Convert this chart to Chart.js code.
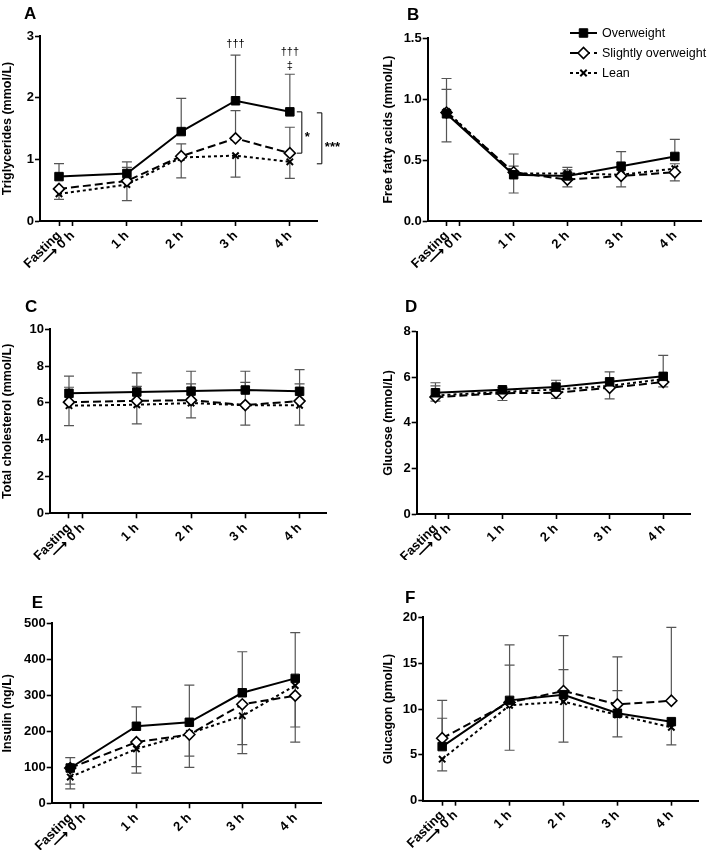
<!DOCTYPE html>
<html>
<head>
<meta charset="utf-8">
<script src="https://cdn.jsdelivr.net/npm/chart.js@4.4.1/dist/chart.umd.min.js"></script>
<style>
  body { margin: 0; background: #fff; }
  #fig { position: relative; width: 709px; height: 850px; background: #fff; }
  #fig canvas { position: absolute; }
</style>
</head>
<body>
<div id="fig">
  <canvas id="panelA" width="355" height="280" style="left:0;top:0"></canvas>
  <canvas id="panelB" width="354" height="280" style="left:355px;top:0"></canvas>
  <canvas id="panelC" width="355" height="280" style="left:0;top:280px"></canvas>
  <canvas id="panelD" width="354" height="280" style="left:355px;top:280px"></canvas>
  <canvas id="panelE" width="355" height="290" style="left:0;top:560px"></canvas>
  <canvas id="panelF" width="354" height="290" style="left:355px;top:560px"></canvas>
</div>
<script>
// time axis
const hourTicks = [-0.25, 0, 1, 2, 3, 4];
const hourLabels = ["Fasting", "⟶ 0 h", "1 h", "2 h", "3 h", "4 h"];
const sampleHours = [-0.25, 1, 2, 3, 4];
const groupNames = ["Overweight", "Slightly overweight", "Lean"];

// A - triglycerides
const tgOver = [0.72, 0.77, 1.45, 1.95, 1.77];
const tgSlight = [0.52, 0.65, 1.05, 1.34, 1.10];
const tgLean = [0.44, 0.59, 1.03, 1.06, 0.96];
const tgOverHi = [0.93, 0.96, 1.99, 2.69, 2.38];
const tgSlightHi = [null, 0.87, 1.25, 1.79, 1.52];
const tgLeanLo = [0.35, 0.33, 0.70, 0.71, 0.69];

// B - free fatty acids
const ffaOver = [0.88, 0.38, 0.37, 0.45, 0.53];
const ffaSlight = [0.89, 0.40, 0.34, 0.37, 0.40];
const ffaLean = [0.90, 0.39, 0.39, 0.38, 0.43];
const ffaOverHi = [1.17, 0.55, 0.44, 0.57, 0.67];
const ffaSlightHi = [1.08, 0.45, null, null, null];
const ffaLeanHi = [null, null, 0.42, null, 0.47];
const ffaLeanLo = [0.65, 0.23, 0.28, 0.28, 0.33];

// C - total cholesterol
const cholOver = [6.52, 6.59, 6.64, 6.70, 6.63];
const cholSlight = [6.04, 6.11, 6.15, 5.88, 6.10];
const cholLean = [5.85, 5.90, 5.99, 5.87, 5.87];
const cholOverHi = [7.45, 7.63, 7.72, 7.72, 7.81];
const cholSlightHi = [6.85, 6.90, 7.03, 7.12, 7.03];
const cholLeanLo = [4.77, 4.86, 5.19, 4.79, 4.79];

// D - glucose
const gluOver = [5.32, 5.45, 5.57, 5.80, 6.04];
const gluSlight = [5.13, 5.30, 5.32, 5.54, 5.79];
const gluLean = [5.20, 5.36, 5.46, 5.62, 5.92];
const gluOverHi = [5.76, 5.55, 5.87, 6.24, 6.96];
const gluSlightHi = [5.62, null, null, null, null];
const gluLeanLo = [4.95, 4.98, 5.07, 5.05, 5.58];

// E - insulin
const insOver = [98, 214, 225, 307, 347];
const insSlight = [98, 170, 191, 275, 299];
const insLean = [73, 151, 194, 243, 327];
const insOverHi = [127, 268, 328, 421, 474];
const insSlightLo = [53, 102, 131, 163, 212];
const insLeanLo = [40, 84, 100, 138, 170];

// F - glucagon
const gcgOver = [5.9, 10.94, 11.56, 9.53, 8.62];
const gcgSlight = [6.81, 10.72, 11.96, 10.5, 10.9];
const gcgLean = [4.53, 10.4, 10.8, 9.35, 8.0];
const gcgOverHi = [8.99, 14.78, 14.3, 12.0, null];
const gcgSlightHi = [10.94, 16.99, 18.0, 15.69, 18.9];
const gcgLeanLo = [3.26, 5.5, 6.38, 6.96, 6.09];

const FONT = '"Liberation Sans", Arial, sans-serif';
Chart.defaults.font.family = FONT;
Chart.defaults.color = "#000";

const groupStyles = [
    { pointStyle: "rect", pointRadius: 6, pointBackgroundColor: "#000", pointBorderWidth: 1, borderDash: [] },
    { pointStyle: "rectRot", pointRadius: 5.5, pointBackgroundColor: "#fff", pointBorderWidth: 1.6, borderDash: [8, 4] },
    { pointStyle: "crossRot", pointRadius: 4.5, pointBackgroundColor: "#000", pointBorderWidth: 2, borderDash: [3, 3] }
];

// vertical error bars, drawn under the markers
const errorBars = {
    id: "errorBars",
    beforeDatasetsDraw(chart) {
        const ctx = chart.ctx;
        const y = chart.scales.y;
        ctx.save();
        ctx.strokeStyle = "#555";
        ctx.lineWidth = 1.2;
        chart.data.datasets.forEach((ds, i) => {
            chart.getDatasetMeta(i).data.forEach((p, j) => {
                [ds.errHi, ds.errLo].forEach(arr => {
                    if (!arr || arr[j] == null) return;
                    const end = y.getPixelForValue(arr[j]);
                    ctx.beginPath();
                    ctx.moveTo(p.x, p.y);
                    ctx.lineTo(p.x, end);
                    ctx.moveTo(p.x - 5, end);
                    ctx.lineTo(p.x + 5, end);
                    ctx.stroke();
                });
            });
        });
        ctx.restore();
    }
};

const panelLetter = {
    id: "letter",
    afterDraw(chart, args, o) {
        const ctx = chart.ctx;
        ctx.save();
        ctx.fillStyle = "#000";
        ctx.font = "bold 17px " + FONT;
        ctx.textBaseline = "alphabetic";
        ctx.fillText(o.text, o.x, o.y);
        ctx.restore();
    }
};

function drawMark(ctx, ds, x, y) {
    const r = ds.pointRadius;
    const s = r * Math.SQRT1_2;
    ctx.lineWidth = ds.pointBorderWidth;
    ctx.strokeStyle = "#000";
    ctx.fillStyle = ds.pointBackgroundColor;
    ctx.beginPath();
    if (ds.pointStyle === "rect") {
        ctx.rect(x - s, y - s, 2 * s, 2 * s);
        ctx.fill();
        ctx.stroke();
    } else if (ds.pointStyle === "rectRot") {
        ctx.moveTo(x - r, y);
        ctx.lineTo(x, y - r);
        ctx.lineTo(x + r, y);
        ctx.lineTo(x, y + r);
        ctx.closePath();
        ctx.fill();
        ctx.stroke();
    } else {
        ctx.moveTo(x - s, y - s);
        ctx.lineTo(x + s, y + s);
        ctx.moveTo(x - s, y + s);
        ctx.lineTo(x + s, y - s);
        ctx.stroke();
    }
}

// legend in panel B (line sample with marker)
const legendBox = {
    id: "legendBox",
    afterDraw(chart) {
        const ctx = chart.ctx;
        chart.data.datasets.forEach((ds, i) => {
            const y = 33 + i * 20;
            ctx.save();
            ctx.strokeStyle = "#000";
            ctx.lineWidth = 2;
            ctx.setLineDash(ds.borderDash);
            ctx.beginPath();
            ctx.moveTo(215, y);
            ctx.lineTo(242, y);
            ctx.stroke();
            ctx.setLineDash([]);
            drawMark(ctx, ds, 228.5, y);
            ctx.fillStyle = "#000";
            ctx.font = "12.5px " + FONT;
            ctx.textBaseline = "middle";
            ctx.fillText(ds.label, 247, y + 1);
            ctx.restore();
        });
    }
};

// significance marks of panel A
const tgMarks = {
    id: "tgMarks",
    afterDraw(chart) {
        const { ctx, scales: { x, y } } = chart;
        const x3 = x.getPixelForValue(3);
        const x4 = x.getPixelForValue(4);
        ctx.save();
        ctx.fillStyle = "#000";
        ctx.strokeStyle = "#000";
        ctx.lineWidth = 1;
        ctx.textAlign = "center";
        ctx.font = "11px " + FONT;
        ctx.fillText("†††", x3, y.getPixelForValue(tgOverHi[3]) - 8);
        ctx.fillText("†††", x4, y.getPixelForValue(tgOverHi[4]) - 19);
        ctx.fillText("‡", x4, y.getPixelForValue(tgOverHi[4]) - 5);

        function bracket(bx, y1, y2, label, ty) {
            ctx.beginPath();
            ctx.moveTo(bx - 5, y1);
            ctx.lineTo(bx, y1);
            ctx.lineTo(bx, y2);
            ctx.lineTo(bx - 5, y2);
            ctx.stroke();
            ctx.textAlign = "left";
            ctx.font = "bold 13px " + FONT;
            ctx.fillText(label, bx + 3, ty);
        }
        const top = y.getPixelForValue(tgOver[4]);
        const mid1 = y.getPixelForValue(tgSlight[4]);
        const low = y.getPixelForValue(tgLean[4]);
        bracket(x4 + 12, top, mid1, "*", (top + mid1) / 2 + 8);
        bracket(x4 + 32, top + 1, low + 2, "***", (top + low) / 2 + 14);
        ctx.restore();
    }
};

function series(i, values, hi, lo) {
    const st = groupStyles[i];
    return {
        label: groupNames[i],
        data: sampleHours.map((h, k) => ({ x: h, y: values[k] })),
        errHi: hi || null,
        errLo: lo || null,
        borderColor: "#000",
        borderWidth: 2,
        borderDash: st.borderDash,
        pointStyle: st.pointStyle,
        pointRadius: st.pointRadius,
        pointBackgroundColor: st.pointBackgroundColor,
        pointBorderColor: "#000",
        pointBorderWidth: st.pointBorderWidth,
        tension: 0,
        fill: false
    };
}

function makePanel(id, p) {
    const ctx = document.getElementById(id).getContext("2d");
    const axisGrid = { drawOnChartArea: false, tickLength: 5, tickWidth: 1.6, tickColor: "#000" };
    return new Chart(ctx, {
        type: "line",
        data: {
            datasets: p.groups.map((g, i) => series(i, g.values, g.hi, g.lo))
        },
        options: {
            responsive: false,
            animation: false,
            layout: { padding: { left: p.padL, top: p.padT, right: p.padR, bottom: 0 } },
            plugins: {
                legend: { display: false },
                tooltip: { enabled: false },
                letter: { text: p.letter, x: p.lx, y: p.ly }
            },
            scales: {
                x: {
                    type: "linear",
                    min: -0.6,
                    max: 4.5,
                    afterBuildTicks: axis => { axis.ticks = hourTicks.map(v => ({ value: v })); },
                    afterFit: axis => { axis.height = p.xh; },
                    ticks: {
                        autoSkip: false,
                        minRotation: 45,
                        maxRotation: 45,
                        padding: 2,
                        font: { size: 13, weight: "bold" },
                        callback: (v, i) => hourLabels[i]
                    },
                    grid: axisGrid,
                    border: { color: "#000", width: 2 }
                },
                y: {
                    min: 0,
                    max: p.yMax,
                    afterFit: axis => { axis.width = p.yw; },
                    ticks: {
                        stepSize: p.step,
                        padding: 1,
                        font: { size: 13, weight: "bold" },
                        callback: v => v.toFixed(p.dec)
                    },
                    grid: axisGrid,
                    border: { color: "#000", width: 2 },
                    title: {
                        display: true,
                        text: p.title,
                        font: { size: 12.5, weight: "bold" },
                        padding: { top: 0, bottom: 0 }
                    }
                }
            }
        },
        plugins: [errorBars, panelLetter].concat(p.extra || [])
    });
}

makePanel("panelA", {
    letter: "A", lx: 24, ly: 19,
    title: "Triglycerides (mmol/L)", yMax: 3, step: 1, dec: 0,
    padL: 0, yw: 40, padT: 36, padR: 38, xh: 59,
    groups: [
        { values: tgOver, hi: tgOverHi },
        { values: tgSlight, hi: tgSlightHi },
        { values: tgLean, lo: tgLeanLo }
    ],
    extra: [tgMarks]
});

makePanel("panelB", {
    letter: "B", lx: 52, ly: 20,
    title: "Free fatty acids (mmol/L)", yMax: 1.5, step: 0.5, dec: 1,
    padL: 26, yw: 46.7, padT: 38.3, padR: 7.3, xh: 59,
    groups: [
        { values: ffaOver, hi: ffaOverHi },
        { values: ffaSlight, hi: ffaSlightHi },
        { values: ffaLean, hi: ffaLeanHi, lo: ffaLeanLo }
    ],
    extra: [legendBox]
});

makePanel("panelC", {
    letter: "C", lx: 25, ly: 31.7,
    title: "Total cholesterol (mmol/L)", yMax: 10, step: 2, dec: 0,
    padL: 0, yw: 50, padT: 49.3, padR: 28.3, xh: 46.7,
    groups: [
        { values: cholOver, hi: cholOverHi },
        { values: cholSlight, hi: cholSlightHi },
        { values: cholLean, lo: cholLeanLo }
    ]
});

makePanel("panelD", {
    letter: "D", lx: 50, ly: 31.7,
    title: "Glucose (mmol/L)", yMax: 8, step: 2, dec: 0,
    padL: 26.5, yw: 35.2, padT: 51.7, padR: 19, xh: 46,
    groups: [
        { values: gluOver, hi: gluOverHi },
        { values: gluSlight, hi: gluSlightHi },
        { values: gluLean, lo: gluLeanLo }
    ]
});

makePanel("panelE", {
    letter: "E", lx: 31.7, ly: 48.3,
    title: "Insulin (ng/L)", yMax: 500, step: 100, dec: 0,
    padL: 0, yw: 51.7, padT: 63.3, padR: 33.3, xh: 46.7,
    groups: [
        { values: insOver, hi: insOverHi },
        { values: insSlight, lo: insSlightLo },
        { values: insLean, lo: insLeanLo }
    ]
});

makePanel("panelF", {
    letter: "F", lx: 50, ly: 43.3,
    title: "Glucagon (pmol/L)", yMax: 20, step: 5, dec: 0,
    padL: 26, yw: 42.3, padT: 57.3, padR: 10.7, xh: 49.3,
    groups: [
        { values: gcgOver, hi: gcgOverHi },
        { values: gcgSlight, hi: gcgSlightHi },
        { values: gcgLean, lo: gcgLeanLo }
    ]
});
</script>
</body>
</html>
